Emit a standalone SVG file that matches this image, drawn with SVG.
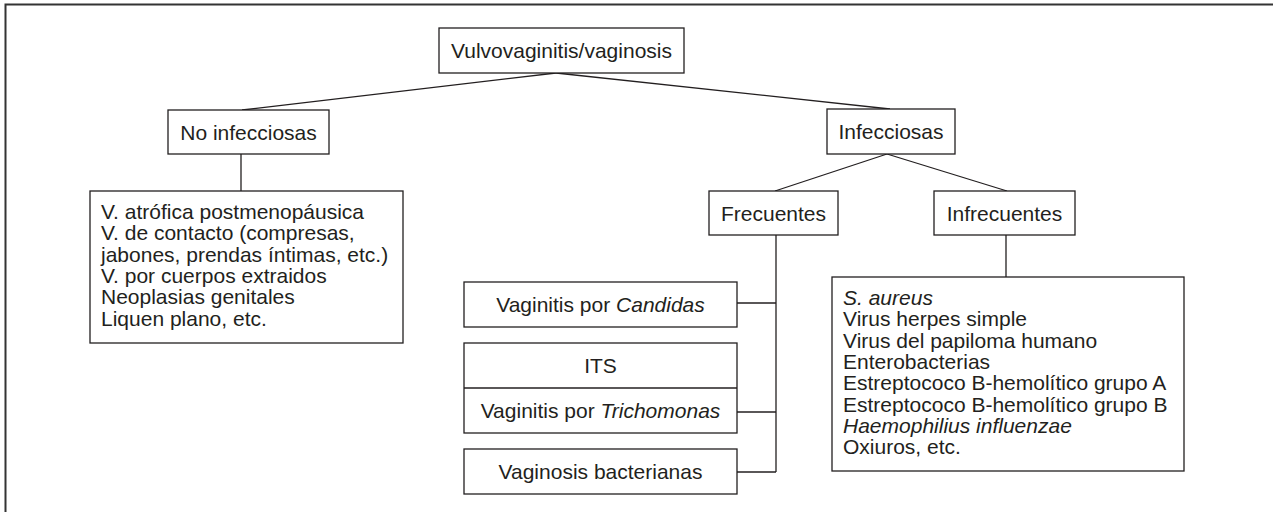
<svg xmlns="http://www.w3.org/2000/svg" width="1273" height="512" viewBox="0 0 1273 512">
<style>
.box{fill:#fff;stroke:#231f20;stroke-width:1.3}
.ln{fill:none;stroke:#231f20;stroke-width:1.3}
text{font-family:"Liberation Sans",Arial,sans-serif;font-size:21px;fill:#231f20}
.c{text-anchor:middle}
.i{font-style:italic}
</style>
<rect x="0" y="0" width="1273" height="512" fill="#fff"/>
<path d="M5.5,512 V4.5 H1273" fill="none" stroke="#333" stroke-width="2"/>
<g id="connectors">
<path class="ln" d="M556,73 L242,110"/>
<path class="ln" d="M556,73 L890,109"/>
<path class="ln" d="M241,154 V191"/>
<path class="ln" d="M887,154 L775,191"/>
<path class="ln" d="M887,154 L1007,191"/>
<path class="ln" d="M1006,235 V277"/>
<path class="ln" d="M776,235 V472"/>
<path class="ln" d="M737,303 H776"/>
<path class="ln" d="M737,412 H776"/>
<path class="ln" d="M737,472 H776"/>
</g>
<g id="root">
<rect class="box" x="439" y="28" width="245" height="45"/>
<text class="c" x="561.5" y="58">Vulvovaginitis/vaginosis</text>
</g>
<g id="no-infecciosas">
<rect class="box" x="168" y="110" width="161" height="44"/>
<text class="c" x="248.5" y="139.5">No infecciosas</text>
</g>
<g id="no-infecciosas-list">
<rect class="box" x="90" y="191" width="313" height="152"/>
<text x="101" y="219">V. atrófica postmenopáusica</text>
<text x="101" y="240.3">V. de contacto (compresas,</text>
<text x="101" y="261.6">jabones, prendas íntimas, etc.)</text>
<text x="101" y="282.9">V. por cuerpos extraidos</text>
<text x="101" y="304.2">Neoplasias genitales</text>
<text x="101" y="325.5">Liquen plano, etc.</text>
</g>
<g id="infecciosas">
<rect class="box" x="827" y="109" width="128" height="45"/>
<text class="c" x="891" y="139">Infecciosas</text>
</g>
<g id="frecuentes">
<rect class="box" x="709" y="191" width="129" height="44"/>
<text class="c" x="773.5" y="220.5">Frecuentes</text>
</g>
<g id="infrecuentes">
<rect class="box" x="934" y="191" width="141" height="44"/>
<text class="c" x="1004.5" y="220.5">Infrecuentes</text>
</g>
<g id="candidas">
<rect class="box" x="464" y="282" width="273" height="45"/>
<text class="c" x="600.5" y="312">Vaginitis por <tspan class="i">Candidas</tspan></text>
</g>
<g id="its-trichomonas">
<rect class="box" x="464" y="343" width="273" height="90"/>
<path class="ln" d="M464,388 H737"/>
<text class="c" x="600.5" y="373">ITS</text>
<text class="c" x="600.5" y="418">Vaginitis por <tspan class="i">Trichomonas</tspan></text>
</g>
<g id="vaginosis">
<rect class="box" x="464" y="449" width="273" height="45"/>
<text class="c" x="600.5" y="479">Vaginosis bacterianas</text>
</g>
<g id="infrecuentes-list">
<rect class="box" x="832" y="277" width="352" height="194"/>
<text x="843" y="305" class="i">S. aureus</text>
<text x="843" y="326.3">Virus herpes simple</text>
<text x="843" y="347.6">Virus del papiloma humano</text>
<text x="843" y="368.9">Enterobacterias</text>
<text x="843" y="390.2">Estreptococo B-hemolítico grupo A</text>
<text x="843" y="411.5">Estreptococo B-hemolítico grupo B</text>
<text x="843" y="432.8" class="i">Haemophilius influenzae</text>
<text x="843" y="454.1">Oxiuros, etc.</text>
</g>
</svg>
